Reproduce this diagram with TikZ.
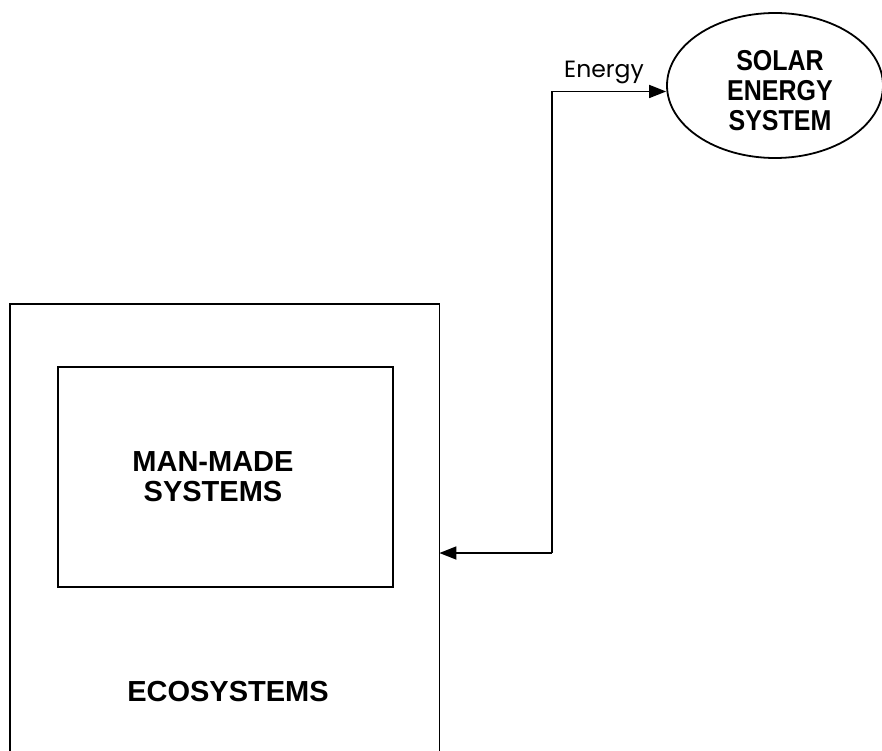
\documentclass[tikz,border=0pt]{standalone}
\usepackage{fontspec}
\setmainfont{Liberation Sans}
\newfontfamily\labelfont{Poppins}
\usetikzlibrary{arrows.meta,shapes.geometric}
\tikzset{
  boxline/.style={line width=1.8pt},
  bigtext/.style={font=\fontsize{29}{30}\selectfont\bfseries, align=center, inner sep=0pt},
  soltext/.style={font=\fontsize{25}{26}\selectfont\bfseries, align=center, inner sep=0pt, yscale=1.15, transform shape},
  flow/.style={line width=1.8pt, -{Triangle[length=17pt,width=13pt]}},
}
\begin{document}
\begin{tikzpicture}[x=1pt,y=-1pt]
\useasboundingbox (0,0) rectangle (882,751);
% outer ecosystem box (open at bottom, runs off the page)
\node[minimum width=429pt, minimum height=447pt, anchor=north west, inner sep=0pt] (eco) at (10,304) {};
\draw[boxline] (eco.south west) -- (eco.north west) -- (eco.north east) -- (eco.south east);
% inner man-made box
\node[boxline, draw, minimum width=335pt, minimum height=220pt, anchor=north west, inner sep=0pt] (man) at (57,366) {};
\node[bigtext] (mantext) at (213,477) {MAN-MADE\\SYSTEMS};
\node[bigtext] (ecotext) at (228,692) {ECOSYSTEMS};
% solar ellipse
\node[ellipse, draw, boxline, minimum width=216pt, minimum height=145pt, inner sep=0pt] (sun) at (775,85.5) {};
\node[soltext] (suntext) at (780,91) {SOLAR\\ENERGY\\SYSTEM};
% connectors
\coordinate (corner) at (552,553);
\coordinate (topcorner) at (552,91.5);
\draw[flow] (corner) -- (eco.east |- corner);
\draw[flow] (corner) -- (topcorner) -- (sun.west |- topcorner);
\node[font=\labelfont\fontsize{23.5}{26}\selectfont, anchor=base, inner sep=0pt] (energy) at (604,78) {Energy};
\end{tikzpicture}
\end{document}
